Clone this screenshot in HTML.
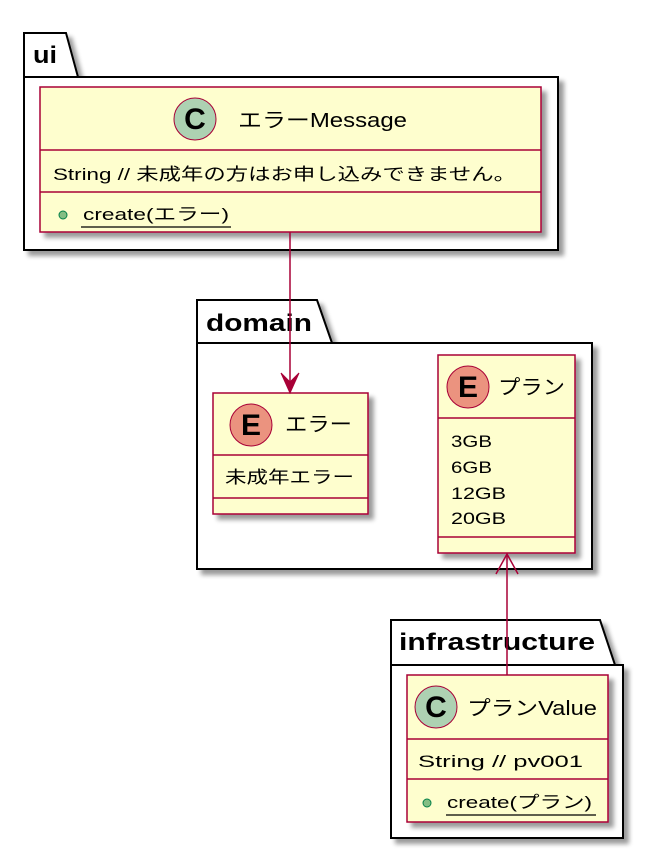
<!DOCTYPE html>
<html><head><meta charset="utf-8"><style>
html,body{margin:0;padding:0;background:#fff;width:656px;height:852px;overflow:hidden}
svg text{font-family:"Liberation Sans","Noto Sans CJK JP",sans-serif;fill:#000}
</style></head><body>
<svg width="656" height="852" viewBox="0 0 656 852" xmlns="http://www.w3.org/2000/svg">
<defs>
<filter id="sh" x="-10%" y="-10%" width="130%" height="130%"><feGaussianBlur in="SourceAlpha" stdDeviation="2.5"/><feOffset dx="5" dy="5"/><feComponentTransfer><feFuncA type="linear" slope="0.4"/></feComponentTransfer><feMerge><feMergeNode/><feMergeNode in="SourceGraphic"/></feMerge></filter>
</defs>
<!-- ui package -->
<g filter="url(#sh)">
<path d="M24,77 L24,33 L66,33 L78,77 L558,77 L558,250 L24,250 Z" fill="#fff" stroke="#000" stroke-width="2"/>
</g>
<line x1="24" y1="77" x2="78" y2="77" stroke="#000" stroke-width="2"/>
<text x="33" y="63" font-size="24" font-weight="bold" textLength="24" lengthAdjust="spacingAndGlyphs">ui</text>
<!-- domain package -->
<g filter="url(#sh)">
<path d="M197,343 L197,300 L317,300 L332,343 L592,343 L592,569 L197,569 Z" fill="#fff" stroke="#000" stroke-width="2"/>
</g>
<line x1="197" y1="343" x2="332" y2="343" stroke="#000" stroke-width="2"/>
<text x="206" y="331" font-size="24" font-weight="bold" textLength="106" lengthAdjust="spacingAndGlyphs">domain</text>
<!-- infrastructure package -->
<g filter="url(#sh)">
<path d="M391,665 L391,620 L600,620 L615,665 L623,665 L623,838 L391,838 Z" fill="#fff" stroke="#000" stroke-width="2"/>
</g>
<line x1="391" y1="665" x2="615" y2="665" stroke="#000" stroke-width="2"/>
<text x="399" y="650" font-size="24" font-weight="bold" textLength="196" lengthAdjust="spacingAndGlyphs">infrastructure</text>

<!-- エラーMessage class -->
<g filter="url(#sh)"><rect x="40" y="87" width="501" height="145" fill="#fefece" stroke="#a80036" stroke-width="1.5"/></g>
<line x1="40" y1="150" x2="541" y2="150" stroke="#a80036" stroke-width="1.5"/>
<line x1="40" y1="192" x2="541" y2="192" stroke="#a80036" stroke-width="1.5"/>
<circle cx="195" cy="119" r="21" fill="#add1b2" stroke="#a80036" stroke-width="1"/>
<text x="195" y="129" font-size="30" font-weight="bold" text-anchor="middle">C</text>
<text x="238" y="127" font-size="20" textLength="169" lengthAdjust="spacingAndGlyphs">エラーMessage</text>
<text x="53" y="180" font-size="17" textLength="463" lengthAdjust="spacingAndGlyphs">String // 未成年の方はお申し込みできません。</text>
<circle cx="63" cy="215" r="4" fill="#84be84" stroke="#038048" stroke-width="1"/>
<text x="83" y="220" font-size="17" textLength="146" lengthAdjust="spacingAndGlyphs">create(エラー)</text>
<line x1="81" y1="227" x2="231" y2="227" stroke="#000" stroke-width="1.2"/>

<!-- エラー entity -->
<g filter="url(#sh)"><rect x="213" y="393" width="155" height="121" fill="#fefece" stroke="#a80036" stroke-width="1.5"/></g>
<line x1="213" y1="455" x2="368" y2="455" stroke="#a80036" stroke-width="1.5"/>
<line x1="213" y1="498" x2="368" y2="498" stroke="#a80036" stroke-width="1.5"/>
<circle cx="251" cy="425" r="21" fill="#eb937f" stroke="#a80036" stroke-width="1"/>
<text x="251" y="435" font-size="30" font-weight="bold" text-anchor="middle">E</text>
<text x="285" y="431" font-size="20" textLength="67" lengthAdjust="spacingAndGlyphs">エラー</text>
<text x="225" y="483" font-size="17" textLength="129" lengthAdjust="spacingAndGlyphs">未成年エラー</text>

<!-- プラン entity -->
<g filter="url(#sh)"><rect x="438" y="355" width="137" height="198" fill="#fefece" stroke="#a80036" stroke-width="1.5"/></g>
<line x1="438" y1="418" x2="575" y2="418" stroke="#a80036" stroke-width="1.5"/>
<line x1="438" y1="537" x2="575" y2="537" stroke="#a80036" stroke-width="1.5"/>
<circle cx="468" cy="387" r="21" fill="#eb937f" stroke="#a80036" stroke-width="1"/>
<text x="468" y="397" font-size="30" font-weight="bold" text-anchor="middle">E</text>
<text x="498" y="394" font-size="20" textLength="67" lengthAdjust="spacingAndGlyphs">プラン</text>
<text x="451" y="447" font-size="17" textLength="41" lengthAdjust="spacingAndGlyphs">3GB</text>
<text x="451" y="473" font-size="17" textLength="41" lengthAdjust="spacingAndGlyphs">6GB</text>
<text x="451" y="499" font-size="17" textLength="55" lengthAdjust="spacingAndGlyphs">12GB</text>
<text x="451" y="524" font-size="17" textLength="55" lengthAdjust="spacingAndGlyphs">20GB</text>

<!-- プランValue class -->
<g filter="url(#sh)"><rect x="407" y="675" width="201" height="147" fill="#fefece" stroke="#a80036" stroke-width="1.5"/></g>
<line x1="407" y1="739" x2="608" y2="739" stroke="#a80036" stroke-width="1.5"/>
<line x1="407" y1="779" x2="608" y2="779" stroke="#a80036" stroke-width="1.5"/>
<circle cx="436" cy="707" r="21" fill="#add1b2" stroke="#a80036" stroke-width="1"/>
<text x="436" y="717" font-size="30" font-weight="bold" text-anchor="middle">C</text>
<text x="467" y="715" font-size="20" textLength="130" lengthAdjust="spacingAndGlyphs">プランValue</text>
<text x="418" y="767" font-size="17" textLength="165" lengthAdjust="spacingAndGlyphs">String // pv001</text>
<circle cx="427" cy="803" r="4" fill="#84be84" stroke="#038048" stroke-width="1"/>
<text x="447" y="808" font-size="17" textLength="145" lengthAdjust="spacingAndGlyphs">create(プラン)</text>
<line x1="446" y1="815" x2="596" y2="815" stroke="#000" stroke-width="1.2"/>

<!-- arrows -->
<line x1="290" y1="232" x2="290" y2="392" stroke="#a80036" stroke-width="1.5"/>
<path d="M281,373 L290,393 L299,373 L290,382 Z" fill="#a80036" stroke="#a80036"/>
<line x1="507" y1="675" x2="507" y2="554" stroke="#a80036" stroke-width="1.5"/>
<path d="M496,574 L507,554 L518,574" fill="none" stroke="#a80036" stroke-width="1.5"/>
</svg>
</body></html>
